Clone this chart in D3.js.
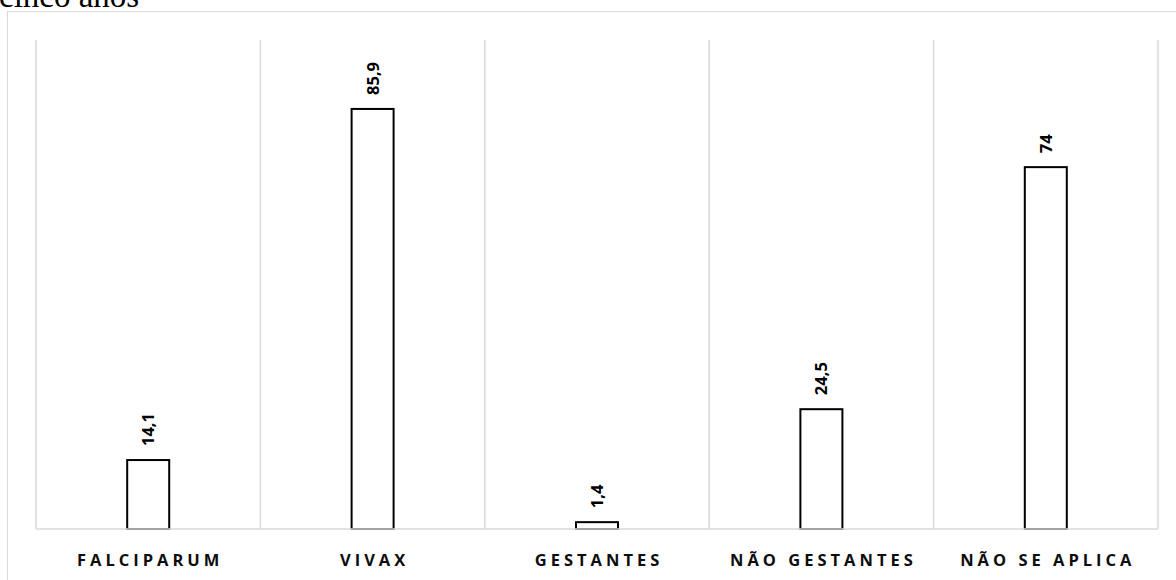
<!DOCTYPE html>
<html>
<head>
<meta charset="utf-8">
<script src="https://cdn.jsdelivr.net/npm/d3@7"></script>
<style>
  html, body { margin: 0; padding: 0; background: #fff; }
  svg { display: block; }
</style>
</head>
<body>
<svg id="chart" width="1176" height="580"></svg>
<script>
// Percentages by category
const categories = ["FALCIPARUM", "VIVAX", "GESTANTES", "NÃO GESTANTES", "NÃO SE APLICA"];
const values = [14.1, 85.9, 1.4, 24.5, 74];
const valueLabels = ["14,1", "85,9", "1,4", "24,5", "74"];
const yDomain = [0, 100];

const svg = d3.select("#chart");
const W = 1176, H = 580;
const plot = { left: 36, right: 1158, top: 40, bottom: 529 };

// Caption text sitting above the chart frame
svg.append("text")
  .attr("x", -1).attr("y", 7)
  .attr("font-family", "'Liberation Serif', 'Times New Roman', serif")
  .attr("font-size", 33)
  .attr("fill", "#000")
  .text("cinco anos");

// Chart frame
svg.append("rect")
  .attr("x", 7.5).attr("y", 11.5)
  .attr("width", W - 7).attr("height", H)
  .attr("fill", "#fff")
  .attr("stroke", "#d9d9d9").attr("stroke-width", 1);

const x = d3.scaleBand().domain(categories).range([plot.left, plot.right]).paddingInner(0).paddingOuter(0);
const y = d3.scaleLinear().domain(yDomain).range([plot.bottom, plot.top]);

// Vertical separators between categories
const seps = categories.map(c => x(c)).concat([plot.right]);
svg.append("g").selectAll("line").data(seps).join("line")
  .attr("x1", d => d).attr("x2", d => d)
  .attr("y1", plot.top).attr("y2", plot.bottom)
  .attr("stroke", "#d9d9d9").attr("stroke-width", 1.5);

// Bars
const barW = 42;
svg.append("g").selectAll("rect").data(values).join("rect")
  .attr("x", (d, i) => x(categories[i]) + x.bandwidth() / 2 - barW / 2)
  .attr("y", d => y(d))
  .attr("width", barW)
  .attr("height", d => y(0) - y(d))
  .attr("fill", "#fff")
  .attr("stroke", "#000").attr("stroke-width", 2);

// Category axis
const xAxis = svg.append("g")
  .attr("transform", `translate(0,${plot.bottom})`)
  .call(d3.axisBottom(x).tickSize(0).tickPadding(0));
xAxis.select(".domain").attr("stroke", "#d9d9d9").attr("stroke-width", 1.5)
  .attr("d", `M${plot.left},0H${plot.right}`);
xAxis.selectAll(".tick text")
  .attr("y", 37)
  .attr("dy", 0)
  .attr("font-family", "'Open Sans', 'Liberation Sans', sans-serif")
  .attr("font-weight", "bold")
  .attr("font-size", 16.5)
  .attr("letter-spacing", "4px")
  .attr("fill", "#0d0d0d")
  .attr("text-anchor", "middle")
  .attr("dx", "2px");

// Value labels, rotated
svg.append("g").selectAll("text").data(values).join("text")
  .attr("transform", (d, i) => {
    const cx = x(categories[i]) + x.bandwidth() / 2;
    return `translate(${cx + 6},${y(d) - 14}) rotate(-90)`;
  })
  .attr("text-anchor", "start")
  .attr("font-family", "'Open Sans', 'Liberation Sans', sans-serif")
  .attr("font-weight", "bold")
  .attr("font-size", 16.5)
  .attr("fill", "#000")
  .text((d, i) => valueLabels[i]);
</script>
</body>
</html>
